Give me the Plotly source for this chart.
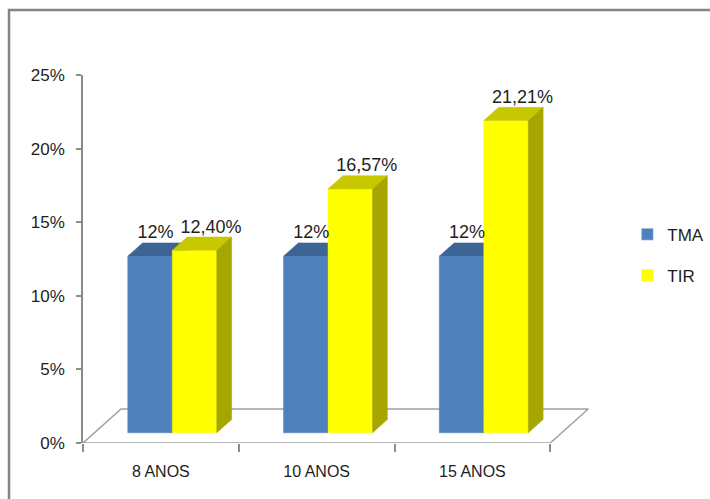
import plotly.graph_objects as go

# ---- data ----
categories = ["8 ANOS", "10 ANOS", "15 ANOS"]
tma_values = [12.0, 12.0, 12.0]
tir_values = [12.40, 16.57, 21.21]
tma_labels = ["12%", "12%", "12%"]
tir_labels = ["12,40%", "16,57%", "21,21%"]
y_ticks = [0, 5, 10, 15, 20, 25]
series_names = ["TMA", "TIR"]

# ---- style / geometry ----
FONT = "Liberation Sans, Arial, sans-serif"
W, H = 710, 499
ML, MR, MT, MB = 83, 113, 75, 56
X_RANGE = [-0.5, 2.8]
Y_RANGE = [0, 25]
pw = W - ML - MR
ph = H - MT - MB
px_x = pw / (X_RANGE[1] - X_RANGE[0])
px_y = ph / (Y_RANGE[1] - Y_RANGE[0])

# depth of the floor (pixels -> data units)
DDX = 38 / px_x
DDY = 34 / px_y
F_FRONT, F_BACK = 0.30, 0.69
fx, fy = F_FRONT * DDX, F_FRONT * DDY
dx, dy = (F_BACK - F_FRONT) * DDX, (F_BACK - F_FRONT) * DDY
BW = 44.5 / px_x

colors = {
    "TMA": {"front": "#4F81BD", "top": "#3C6494", "side": "#345780"},
    "TIR": {"front": "#FFFF00", "top": "#C8C800", "side": "#A6A600"},
}
AXIS_COL = "#8C8C8C"
TXT_COL = "#1E1E1E"

fig = go.Figure()

# floor
n = len(categories)
fl_x = [X_RANGE[0], n - 0.5, n - 0.5 + DDX, X_RANGE[0] + DDX, X_RANGE[0]]
fl_y = [0, 0, DDY, DDY, 0]
fig.add_trace(go.Scatter(x=fl_x, y=fl_y, mode="lines", fill="toself",
                         fillcolor="white", line=dict(color="#A0A0A0", width=1.5),
                         hoverinfo="skip", showlegend=False))


def faces(values, lefts):
    fr_x, fr_y, tp_x, tp_y, sd_x, sd_y = [], [], [], [], [], []
    for v, L in zip(values, lefts):
        R = L + BW
        T = fy + v
        fr_x += [L, R, R, L, L, None]
        fr_y += [fy, fy, T, T, fy, None]
        tp_x += [L, R, R + dx, L + dx, L, None]
        tp_y += [T, T, T + dy, T + dy, T, None]
        sd_x += [R, R + dx, R + dx, R, R, None]
        sd_y += [fy, fy + dy, T + dy, T, fy, None]
    return (fr_x, fr_y), (tp_x, tp_y), (sd_x, sd_y)


label_pts = {}
label_shift = {"TMA": -2 / px_x, "TIR": 9 / px_x}
for name, vals, off in [("TMA", tma_values, -BW), ("TIR", tir_values, 0.0)]:
    lefts = [i + fx + off for i in range(n)]
    fr, tp, sd = faces(vals, lefts)
    for (xs, ys), key in [(fr, "front"), (tp, "top"), (sd, "side")]:
        fig.add_trace(go.Scatter(x=xs, y=ys, mode="lines", fill="toself",
                                 fillcolor=colors[name][key],
                                 line=dict(color=colors[name][key], width=0.5),
                                 hoverinfo="skip", showlegend=False))
    label_pts[name] = ([L + BW / 2 + dx / 2 + label_shift[name] for L in lefts],
                       [fy + v + dy for v in vals])

for name, labels in [("TMA", tma_labels), ("TIR", tir_labels)]:
    xs, ys = label_pts[name]
    fig.add_trace(go.Scatter(x=xs, y=ys, mode="text", text=labels,
                             textposition="top center",
                             textfont=dict(family=FONT, size=18, color=TXT_COL),
                             hoverinfo="skip", showlegend=False, cliponaxis=False))

# legend entries
for i, name in enumerate(series_names):
    fig.add_trace(go.Bar(x=[None], y=[None], name=name,
                         marker=dict(color=colors[name]["front"]),
                         legendgroup=name, showlegend=True))

fig.update_layout(
    width=W, height=H,
    margin=dict(l=ML, r=MR, t=MT, b=MB, autoexpand=False),
    paper_bgcolor="white", plot_bgcolor="white",
    font=dict(family=FONT, color=TXT_COL),
    showlegend=True,
    legend=dict(x=1.059, y=0.615, xanchor="left", yanchor="top",
                font=dict(family=FONT, size=17, color=TXT_COL),
                tracegroupgap=16, bgcolor="rgba(0,0,0,0)"),
    shapes=[dict(type="rect", xref="paper", yref="paper",
                 x0=(9 - ML) / pw, x1=1.5, y0=-0.5, y1=(ph + MT - 10) / ph,
                 line=dict(color="#858585", width=2.5), layer="below")],
)

fig.update_xaxes(range=X_RANGE, showgrid=False, zeroline=False, showline=False,
                 tickmode="array", tickvals=list(range(n)), ticktext=categories,
                 ticks="", ticklabelstandoff=17,
                 tickfont=dict(family=FONT, size=16, color=TXT_COL),
                 minor=dict(tickmode="array", tickvals=[i - 0.5 for i in range(n + 1)],
                            ticks="outside", ticklen=8, tickcolor=AXIS_COL, tickwidth=1.5,
                            showgrid=False),
                 fixedrange=True)
fig.update_yaxes(range=Y_RANGE, showgrid=False, zeroline=False, showline=True,
                 linecolor=AXIS_COL, linewidth=1.5,
                 tickmode="array", tickvals=y_ticks, ticktext=[f"{t}%" for t in y_ticks],
                 ticks="outside", ticklen=5, tickcolor=AXIS_COL, tickwidth=1.5,
                 ticklabelstandoff=8,
                 tickfont=dict(family=FONT, size=17, color=TXT_COL),
                 fixedrange=True)

fig.write_html("out.html", config={"displayModeBar": False},
               post_script="document.body.style.margin='0';document.body.style.overflow='hidden';")
